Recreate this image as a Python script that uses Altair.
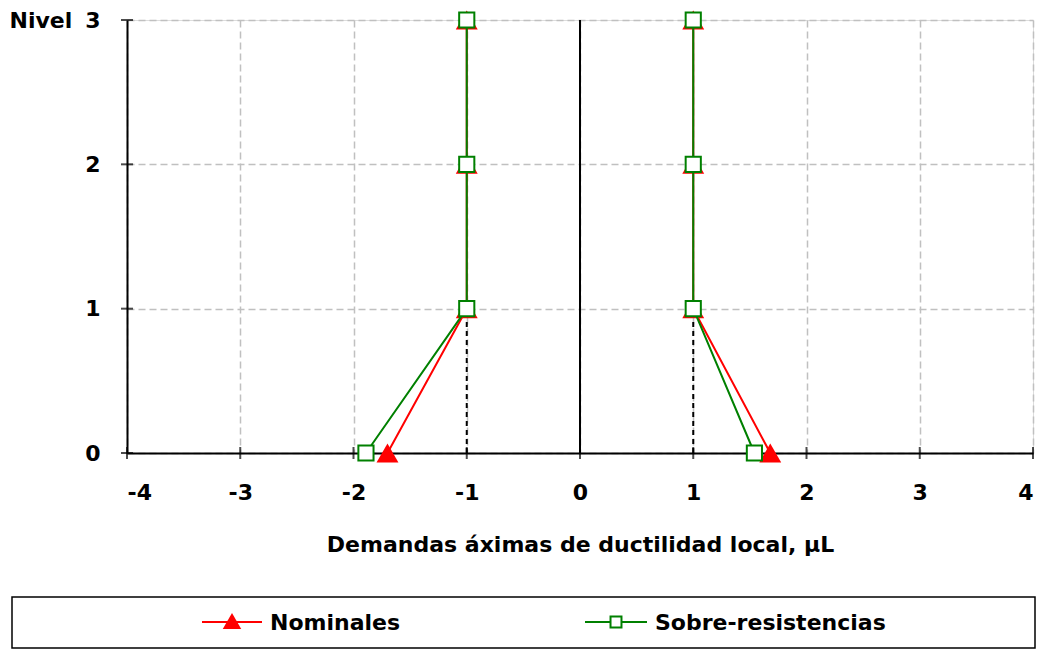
import altair as alt
import pandas as pd

# ---- data ----
levels = [0, 1, 2, 3]
nom_left = [-1.70, -1.0, -1.0, -1.0]
nom_right = [1.68, 1.0, 1.0, 1.0]
sob_left = [-1.89, -1.0, -1.0, -1.0]
sob_right = [1.54, 1.0, 1.0, 1.0]
series_names = ["Nominales", "Sobre-resistencias"]
x_ticks = [-4, -3, -2, -1, 0, 1, 2, 3, 4]
y_ticks = [0, 1, 2, 3]
x_title = "Demandas áximas de ductilidad local, \u03bcL"
y_title = "Nivel"

FONT = "DejaVu Sans"
FS = 22
RED = "#ff0000"
GREEN = "#008000"

rows = []
for name, left, right in [(series_names[0], nom_left, nom_right),
                          (series_names[1], sob_left, sob_right)]:
    for side, vals in [("L", left), ("R", right)]:
        for lv, v in zip(levels, vals):
            rows.append({"serie": name, "side": side, "x": v, "y": lv})
df = pd.DataFrame(rows)
df_nom = df[df.serie == series_names[0]]
df_sob = df[df.serie == series_names[1]]

dash_df = pd.DataFrame({"x": [-1, -1, 1, 1], "y": [0, 1, 0, 1], "g": ["a", "a", "b", "b"]})
zero_df = pd.DataFrame({"x": [0, 0], "y": [0, 3]})
xt_df = pd.DataFrame({"x": x_ticks, "y": [0] * len(x_ticks)})
yt_df = pd.DataFrame({"x": [-4] * len(y_ticks), "y": y_ticks})

xs = alt.Scale(domain=[-4, 4], nice=False, zero=False)
ys = alt.Scale(domain=[0, 3], nice=False, zero=False)

base_axis = dict(labelFont=FONT, labelFontSize=FS, labelFontWeight="bold", labelColor="black",
                 titleFont=FONT, titleFontSize=FS, titleFontWeight="bold", titleColor="black",
                 grid=True, gridColor="#c0c0c0", gridDash=[7, 4], gridWidth=1.5,
                 domain=True, domainColor="black", domainWidth=2, ticks=False,
                 labelExpr="'' + datum.value")

X = alt.X("x:Q", scale=xs, axis=alt.Axis(values=x_ticks, title=x_title, labelPadding=29,
                                         titlePadding=31, **base_axis))
Y = alt.Y("y:Q", scale=ys, axis=alt.Axis(values=y_ticks, title=y_title, titleAngle=0,
                                         titleX=-118, titleY=0, titleAlign="left",
                                         titleBaseline="middle", labelPadding=27,
                                         **base_axis))

grid_layer = alt.Chart(zero_df).mark_line(color="black", strokeWidth=2).encode(x=X, y=Y)
dash_layer = alt.Chart(dash_df).mark_line(color="black", strokeWidth=2, strokeDash=[5, 4]).encode(
    x="x:Q", y="y:Q", detail="g:N")
xt_layer = alt.Chart(xt_df).mark_tick(orient="vertical", color="black", size=12, thickness=2).encode(
    x="x:Q", y="y:Q")
yt_layer = alt.Chart(yt_df).mark_tick(orient="horizontal", color="black", size=12, thickness=2).encode(
    x="x:Q", y="y:Q")

nom_line = alt.Chart(df_nom).mark_line(color=RED, strokeWidth=2).encode(
    x="x:Q", y="y:Q", detail="side:N", order="y:Q")
nom_pts = alt.Chart(df_nom).mark_point(shape="triangle-up", filled=True, color=RED, size=480,
                                       opacity=1).encode(x="x:Q", y="y:Q")
sob_line = alt.Chart(df_sob).mark_line(color=GREEN, strokeWidth=2).encode(
    x="x:Q", y="y:Q", detail="side:N", order="y:Q")
sob_pts = alt.Chart(df_sob).mark_point(shape="square", filled=True, fill="white", stroke=GREEN,
                                       strokeWidth=2, size=230, opacity=1).encode(x="x:Q", y="y:Q")

# ---- legend (drawn manually) ----
one = alt.Data(values=[{}])
leg_box = alt.Chart(one).mark_rect(fill="white", stroke="black", strokeWidth=1.5).encode(
    x=alt.value(-115), x2=alt.value(908), y=alt.value(577), y2=alt.value(628))
leg_r_line = alt.Chart(one).mark_rule(color=RED, strokeWidth=2).encode(
    x=alt.value(75), x2=alt.value(135), y=alt.value(602))
leg_r_pt = alt.Chart(one).mark_point(shape="triangle-up", filled=True, color=RED, size=340,
                                     opacity=1).encode(x=alt.value(105), y=alt.value(601))
leg_r_txt = alt.Chart(one).mark_text(text=series_names[0], font=FONT, fontSize=FS, fontWeight="bold",
                                     align="left", baseline="middle", color="black").encode(
    x=alt.value(143), y=alt.value(603))
leg_g_line = alt.Chart(one).mark_rule(color=GREEN, strokeWidth=2).encode(
    x=alt.value(458), x2=alt.value(520), y=alt.value(602))
leg_g_pt = alt.Chart(one).mark_point(shape="square", filled=True, fill="white", stroke=GREEN,
                                     strokeWidth=2, size=120, opacity=1).encode(
    x=alt.value(489), y=alt.value(602))
leg_g_txt = alt.Chart(one).mark_text(text=series_names[1], font=FONT, fontSize=FS, fontWeight="bold",
                                     align="left", baseline="middle", color="black").encode(
    x=alt.value(528), y=alt.value(603))

chart = alt.layer(
    grid_layer, dash_layer, nom_line, nom_pts, sob_line, sob_pts, xt_layer, yt_layer,
    leg_box, leg_r_line, leg_r_pt, leg_r_txt, leg_g_line, leg_g_pt, leg_g_txt
).properties(
    width=906, height=433,
    autosize=alt.AutoSizeParams(type="none"),
    padding={"left": 119, "top": 12, "right": 4, "bottom": 196},
).configure_view(stroke=None).configure(background="white")

chart.save("out.html", embed_options={"renderer": "svg", "actions": False})
